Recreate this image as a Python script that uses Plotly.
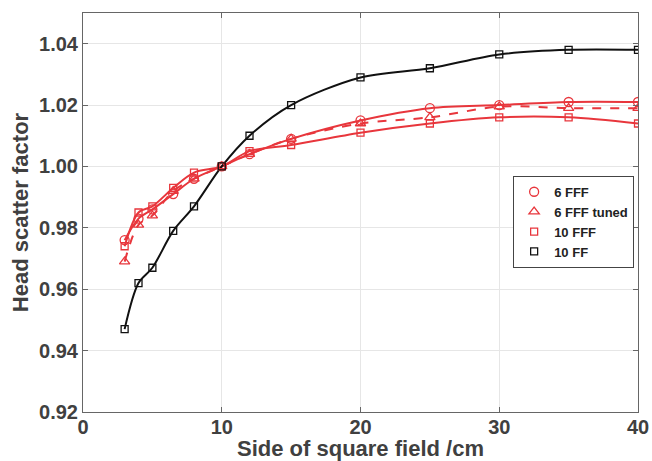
import plotly.graph_objects as go

x = [3, 4, 5, 6.5, 8, 10, 12, 15, 20, 25, 30, 35, 40]
fff6 = [0.976, 0.983, 0.986, 0.991, 0.996, 1.000, 1.004, 1.009, 1.015, 1.019, 1.020, 1.021, 1.021]
fff6_tuned = [0.969, 0.981, 0.984, 0.992, 0.996, 1.000, 1.004, 1.009, 1.014, 1.016, 1.0195, 1.019, 1.019]
fff10 = [0.974, 0.985, 0.987, 0.993, 0.998, 1.000, 1.005, 1.007, 1.011, 1.014, 1.016, 1.016, 1.014]
ff10 = [0.947, 0.962, 0.967, 0.979, 0.987, 1.000, 1.010, 1.020, 1.029, 1.032, 1.0365, 1.038, 1.038]

names = ["6 FFF", "6 FFF tuned", "10 FFF", "10 FF"]
RED = "#e8363c"
BLACK = "#111111"
series = [
    (names[0], fff6, RED, "circle-open", "solid", 9),
    (names[1], fff6_tuned, RED, "triangle-up-open", "dash", 9),
    (names[2], fff10, RED, "square-open", "solid", 7),
    (names[3], ff10, BLACK, "square-open", "solid", 7),
]

fig = go.Figure()
for name, ys, col, sym, dash, ms in series:
    fig.add_trace(go.Scatter(x=x, y=ys, mode="lines", line=dict(color=col, width=2, dash=dash, shape="spline", smoothing=0.9),
                             showlegend=False, hoverinfo="skip"))
for name, ys, col, sym, dash, ms in series:
    fig.add_trace(go.Scatter(x=x, y=ys, mode="markers", name=name,
                             marker=dict(symbol=sym, size=ms, color=col, line=dict(width=1.3, color=col))))

font = "Liberation Sans, Arial, Helvetica, sans-serif"
fig.update_layout(
    width=652, height=461,
    margin=dict(l=83, r=14, t=13, b=49),
    plot_bgcolor="white", paper_bgcolor="white",
    font=dict(family=font, color="#404040"),
    legend=dict(x=0.775, y=0.592, xanchor="left", yanchor="top",
                bordercolor="#444444", borderwidth=1, bgcolor="white",
                font=dict(size=13, color="#222222", family=font, weight="bold"),
                tracegroupgap=0, itemwidth=30),
    xaxis=dict(range=[0, 40], tickvals=[0, 10, 20, 30, 40], automargin=False,
               showgrid=True, gridcolor="#e6e6e6", gridwidth=1,
               showline=True, linecolor="#666666", linewidth=1, mirror="ticks",
               ticks="inside", ticklen=5, tickcolor="#666666", ticklabelstandoff=-3,
               tickfont=dict(size=20, family=font, color="#404040", weight="bold"),
               title=dict(text="Side of square field /cm", standoff=10,
                          font=dict(size=22, family=font, color="#404040", weight="bold")),
               zeroline=False),
    yaxis=dict(range=[0.92, 1.05], tickvals=[0.92, 0.94, 0.96, 0.98, 1.00, 1.02, 1.04], tickformat=".2f",
               automargin=False,
               showgrid=True, gridcolor="#e6e6e6", gridwidth=1,
               showline=True, linecolor="#666666", linewidth=1, mirror="ticks",
               ticks="inside", ticklen=5, tickcolor="#666666",
               tickfont=dict(size=20, family=font, color="#404040", weight="bold"),
               title=dict(text="Head scatter factor", standoff=4,
                          font=dict(size=22, family=font, color="#404040", weight="bold")),
               zeroline=False),
)
fig.write_html("out.html", config={"displayModeBar": False},
               post_script="document.body.style.margin='0';document.body.style.overflow='hidden';")
